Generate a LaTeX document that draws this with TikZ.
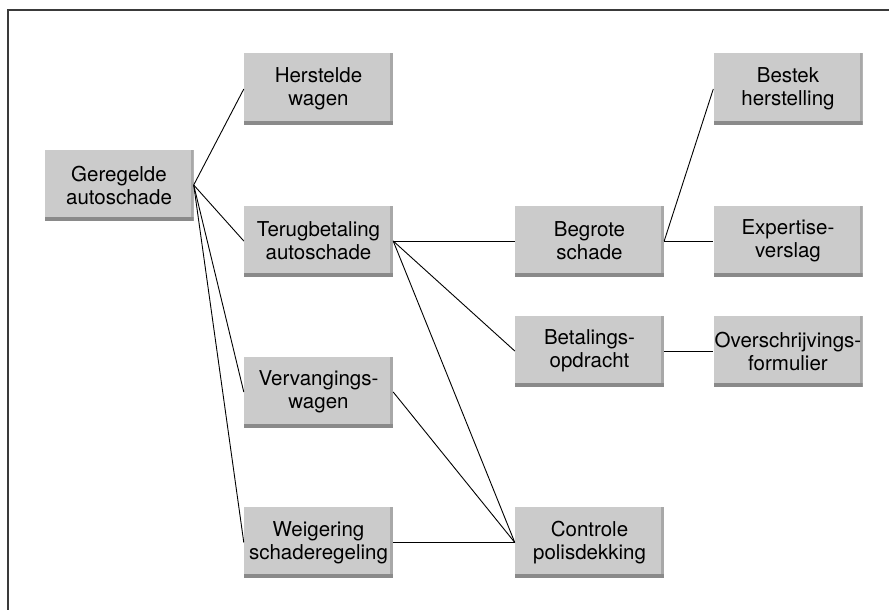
\documentclass[tikz,border=0pt]{standalone}
\usepackage{fontspec}
\setmainfont{TeX Gyre Heros}
\definecolor{boxfill}{HTML}{CBCBCB}
\definecolor{boxshadow}{HTML}{8A8A8A}
\definecolor{boxright}{HTML}{A8A8A8}
\definecolor{framecol}{HTML}{3A3A3A}
\begin{document}
\begin{tikzpicture}[x=1pt,y=-1pt,
  box/.style={fill=boxfill, minimum width=149pt, minimum height=71pt, inner sep=0pt,
    align=center, font=\fontsize{20.5}{23}\selectfont,
    path picture={
      \fill[boxright] ([xshift=-3pt]path picture bounding box.north east) rectangle (path picture bounding box.south east);
      \fill[boxshadow] (path picture bounding box.south west) rectangle ([yshift=4pt]path picture bounding box.south east);
    }},
  conn/.style={draw=black, line width=0.9pt}]
\useasboundingbox (0,0) rectangle (889,610);
\draw[framecol, line width=2pt] (8,610) -- (8,10) -- (889,10);

\node[box] (g)  at (119,185)   {Geregelde\\autoschade};
\node[box] (hw) at (318.5,89)  {Herstelde\\wagen};
\node[box] (ta) at (318.5,241) {Terugbetaling\\autoschade};
\node[box] (vw) at (318.5,392) {Vervangings-\\wagen};
\node[box] (ws) at (318.5,542.5) {Weigering\\schaderegeling};
\node[box] (bs) at (589.5,241) {Begrote\\schade};
\node[box] (bo) at (589.5,351) {Betalings-\\opdracht};
\node[box] (cp) at (589.5,542.5) {Controle\\polisdekking};
\node[box] (bh) at (788,89)    {Bestek\\herstelling};
\node[box] (ev) at (788,241)   {Expertise-\\verslag};
\node[box] (of) at (788,351)   {Overschrijvings-\\formulier};

\draw[conn] (g.east) -- (hw.west);
\draw[conn] (g.east) -- (ta.west);
\draw[conn] (g.east) -- (vw.west);
\draw[conn] (g.east) -- (ws.west);
\draw[conn] (ta.east) -- (bs.west);
\draw[conn] (ta.east) -- (bo.west);
\draw[conn] (ta.east) -- (cp.west);
\draw[conn] (vw.east) -- (cp.west);
\draw[conn] (ws.east) -- (cp.west);
\draw[conn] (bs.east) -- (bh.west);
\draw[conn] (bs.east) -- (ev.west);
\draw[conn] (bo.east) -- (of.west);
\end{tikzpicture}
\end{document}
